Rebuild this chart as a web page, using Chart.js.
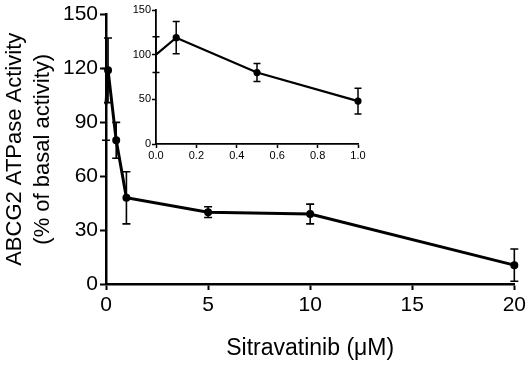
<!DOCTYPE html>
<html>
<head>
<meta charset="utf-8">
<script src="https://cdn.jsdelivr.net/npm/chart.js@4/dist/chart.umd.min.js"></script>
<style>
  html, body { margin: 0; padding: 0; background: #fff; }
  #wrap { position: relative; width: 529px; height: 365px; }
  #main { position: absolute; left: 0; top: 0; }
  #inset { position: absolute; left: 120px; top: 0; }
</style>
</head>
<body>
<div id="wrap">
  <canvas id="main" width="529" height="365"></canvas>
  <canvas id="inset" width="250" height="170"></canvas>
</div>
<script>
// data
const concentrations = [0, 0.1, 0.5, 1, 5, 10, 20];
const activity = [100, 119, 80, 48, 40, 39, 10.5];
const activitySD = [20, 18, 10, 14.5, 3, 5.5, 9];

const insetConcentrations = [0, 0.1, 0.5, 1];
const insetActivity = [100, 119, 80, 48];
const insetSD = [20, 18, 10, 14.5];

const mainXTicks = [0, 5, 10, 15, 20];
const mainYTicks = [0, 30, 60, 90, 120, 150];
const insetXTicks = [0, 0.2, 0.4, 0.6, 0.8, 1.0];
const insetYTicks = [0, 50, 100, 150];

const fontFamily = "Arial, 'Liberation Sans', sans-serif";

function toPoints(xs, ys) {
    return xs.map((x, i) => ({ x: x, y: ys[i] }));
}

// the control (x = 0) has no marker, only its error bar
function markerSizes(xs, r) {
    return xs.map(x => x === 0 ? 0 : r);
}

// draws the vertical error bars with caps, using the chart's own scales
const errorBars = {
    id: 'errorBars',
    afterDatasetsDraw(chart, args, opts) {
        let ctx = chart.ctx;
        let xScale = chart.scales.x;
        let yScale = chart.scales.y;
        chart.data.datasets.forEach(ds => {
            if (!ds.errors) return;
            ctx.save();
            ctx.strokeStyle = '#000';
            ctx.lineWidth = opts.width;
            ds.data.forEach((p, i) => {
                let e = ds.errors[i];
                if (!e) return;
                let px = xScale.getPixelForValue(p.x);
                let top = yScale.getPixelForValue(p.y + e);
                let bottom = yScale.getPixelForValue(p.y - e);
                ctx.beginPath();
                ctx.moveTo(px, top);
                ctx.lineTo(px, bottom);
                ctx.moveTo(px - opts.cap, top);
                ctx.lineTo(px + opts.cap, top);
                ctx.moveTo(px - opts.cap, bottom);
                ctx.lineTo(px + opts.cap, bottom);
                ctx.stroke();
            });
            ctx.restore();
        });
    }
};

function fixedTicks(values) {
    return function (scale) {
        scale.ticks = values.map(v => ({ value: v }));
    };
}

// ---- main chart ----
let mainCtx = document.getElementById('main').getContext('2d');
let mainChart = new Chart(mainCtx, {
    type: 'scatter',
    data: {
        datasets: [{
            data: toPoints(concentrations, activity),
            errors: activitySD,
            showLine: true,
            borderColor: '#000',
            backgroundColor: '#000',
            borderWidth: 3,
            pointRadius: markerSizes(concentrations, 2.5),
            clip: false
        }]
    },
    plugins: [errorBars],
    options: {
        responsive: false,
        animation: false,
        layout: { padding: { top: 10, right: 12, bottom: 0, left: 0 } },
        plugins: {
            legend: { display: false },
            tooltip: { enabled: false },
            errorBars: { width: 1.6, cap: 4 }
        },
        scales: {
            x: {
                type: 'linear',
                min: 0,
                max: 20,
                afterBuildTicks: fixedTicks(mainXTicks),
                afterFit: scale => { scale.height = 81; },
                border: { color: '#000', width: 2.5 },
                grid: { drawOnChartArea: false, color: '#000', tickLength: 6, tickWidth: 2 },
                ticks: { color: '#000', padding: 3, maxRotation: 0, font: { family: fontFamily, size: 21 } },
                title: {
                    display: true,
                    text: 'Sitravatinib (\u03bcM)',
                    color: '#000',
                    font: { family: fontFamily, size: 23 },
                    padding: { top: 0, bottom: 3 }
                }
            },
            y: {
                type: 'linear',
                min: 0,
                max: 150,
                afterBuildTicks: fixedTicks(mainYTicks),
                afterFit: scale => { scale.width = 106; },
                border: { color: '#000', width: 2.5 },
                grid: { drawOnChartArea: false, color: '#000', tickLength: 6, tickWidth: 2 },
                ticks: { color: '#000', padding: 2, font: { family: fontFamily, size: 21 } },
                title: {
                    display: true,
                    text: ['ABCG2 ATPase Activity', '(% of basal activity)'],
                    color: '#000',
                    font: { family: fontFamily, size: 22, lineHeight: 1.27 },
                    padding: { top: 1, bottom: 0 }
                }
            }
        }
    }
});

// ---- inset chart ----
let insetCtx = document.getElementById('inset').getContext('2d');
let insetChart = new Chart(insetCtx, {
    type: 'scatter',
    data: {
        datasets: [{
            data: toPoints(insetConcentrations, insetActivity),
            errors: insetSD,
            showLine: true,
            borderColor: '#000',
            backgroundColor: '#000',
            borderWidth: 2.2,
            pointRadius: markerSizes(insetConcentrations, 2.5),
            clip: false
        }]
    },
    plugins: [errorBars],
    options: {
        responsive: false,
        animation: false,
        layout: { padding: { top: 10, right: 12, bottom: 0, left: 0 } },
        plugins: {
            legend: { display: false },
            tooltip: { enabled: false },
            errorBars: { width: 1.5, cap: 3.5 }
        },
        scales: {
            x: {
                type: 'linear',
                min: 0,
                max: 1,
                afterBuildTicks: fixedTicks(insetXTicks),
                afterFit: scale => { scale.height = 26; },
                border: { color: '#000', width: 1.8 },
                grid: { drawOnChartArea: false, color: '#000', tickLength: 4, tickWidth: 1.5 },
                ticks: {
                    color: '#000', padding: 1, maxRotation: 0,
                    font: { family: fontFamily, size: 11 },
                    callback: v => v.toFixed(1)
                }
            },
            y: {
                type: 'linear',
                min: 0,
                max: 150,
                afterBuildTicks: fixedTicks(insetYTicks),
                afterFit: scale => { scale.width = 36; },
                border: { color: '#000', width: 1.8 },
                grid: { drawOnChartArea: false, color: '#000', tickLength: 4, tickWidth: 1.5 },
                ticks: { color: '#000', padding: 1, font: { family: fontFamily, size: 11 } }
            }
        }
    }
});
</script>
</body>
</html>
